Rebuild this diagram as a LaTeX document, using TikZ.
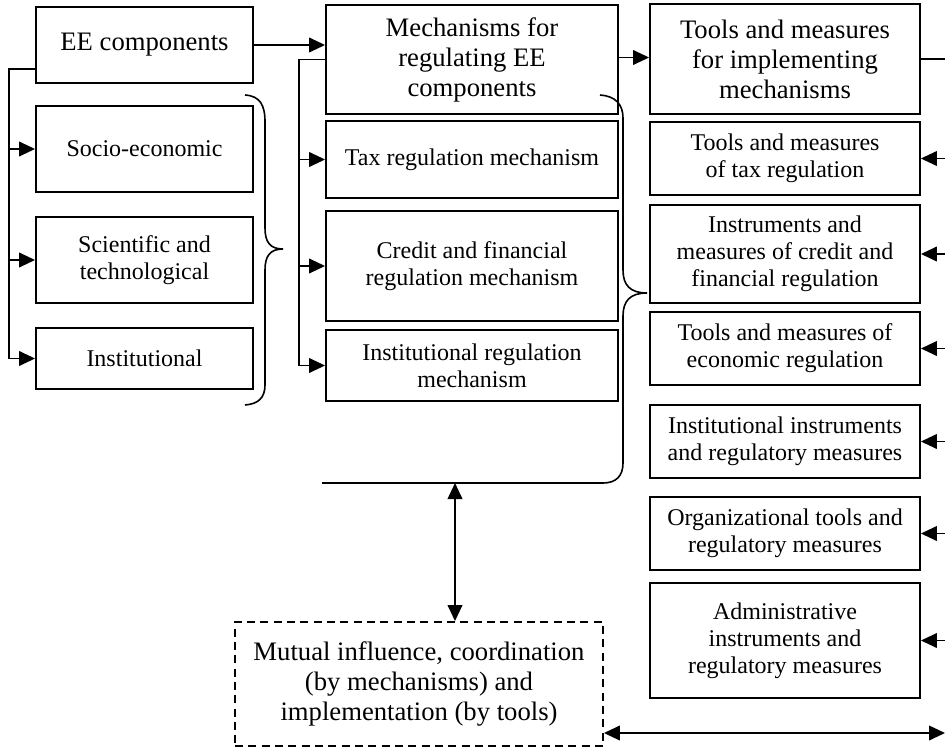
\documentclass[tikz,border=0pt]{standalone}
\usepackage{fontspec}
\setmainfont{Liberation Serif}
\usetikzlibrary{arrows.meta,calc}
\newcommand{\fbig}{\fontsize{20}{22.5}\selectfont}
\newcommand{\fsmall}{\fontsize{18}{20.3}\selectfont}
\tikzset{
  box/.style={draw, line width=1.4pt, align=center, inner sep=2pt, font=\fsmall},
  bigbox/.style={box, font=\fbig},
  dbox/.style={bigbox, dash pattern=on 6pt off 4pt},
  ln/.style={line width=1.3pt},
  arr/.style={ln, -{Triangle[length=12pt,width=11pt]}},
  darr/.style={ln, {Triangle[length=12pt,width=11pt]}-{Triangle[length=12pt,width=11pt]}},
  brace/.style={line width=1.2pt},
}
\begin{document}
\begin{tikzpicture}[x=0.75pt,y=-0.75pt]
\useasboundingbox (0,0) rectangle (945,749);
% left column
\node[bigbox, minimum width=162.75pt, minimum height=57pt] (ee) at (144.5,45) {EE components};
\node[box, minimum width=162.75pt, minimum height=64.5pt] (soc) at (144.5,149) {Socio-economic};
\node[box, minimum width=162.75pt, minimum height=64.5pt] (sci) at (144.5,260) {Scientific and\\technological};
\node[box, minimum width=162.75pt, minimum height=45.75pt] (inst) at (144.5,358.5) {Institutional};
% middle column
\node[bigbox, minimum width=219pt, minimum height=81.75pt] (mech) at (472,59.5) {Mechanisms for\\regulating EE\\components};
\node[box, minimum width=219pt, minimum height=57.75pt] (tax) at (472,159.5) {Tax regulation mechanism};
\node[box, minimum width=219pt, minimum height=82.5pt] (cred) at (472,266) {Credit and financial\\regulation mechanism};
\node[box, minimum width=219pt, minimum height=53.25pt] (ireg) at (472,365.5) {Institutional regulation\\mechanism};
% right column
\node[bigbox, minimum width=202.5pt, minimum height=82.5pt] (tools) at (785,59) {Tools and measures\\for implementing\\mechanisms};
\node[box, minimum width=202.5pt, minimum height=54.75pt] (ttax) at (785,158.5) {Tools and measures\\of tax regulation};
\node[box, minimum width=202.5pt, minimum height=73.5pt] (tcred) at (785,254) {Instruments and\\measures of credit and\\financial regulation};
\node[box, minimum width=202.5pt, minimum height=54.75pt] (tecon) at (785,348.5) {Tools and measures of\\economic regulation};
\node[box, minimum width=202.5pt, minimum height=54.75pt] (tinst) at (785,441.5) {Institutional instruments\\and regulatory measures};
\node[box, minimum width=202.5pt, minimum height=54.75pt] (torg) at (785,533.5) {Organizational tools and\\regulatory measures};
\node[box, minimum width=202.5pt, minimum height=86.25pt] (tadm) at (785,640.5) {Administrative\\instruments and\\regulatory measures};
% bottom dashed
\node[dbox, minimum width=276pt, minimum height=93pt] (mut) at (419,684) {Mutual influence, coordination\\(by mechanisms) and\\implementation (by tools)};
% coordinates
\coordinate (L) at (9,0);
\coordinate (M) at (299,0);
\coordinate (R) at (945,0);
\coordinate (bl) at (455,483);
\coordinate (bot) at (945,733);
\coordinate (eo) at ($(ee.west)+(0,24)$);
\coordinate (me) at ($(mech.east)+(0,-2)$);
% left bus
\draw[ln] (eo) -- (L |- eo) -- (L |- inst.west);
\draw[arr] (L |- soc.west) -- (soc.west);
\draw[arr] (L |- sci.west) -- (sci.west);
\draw[arr] (L |- inst.west) -- (inst.west);
% ee -> mech
\draw[arr] (ee.east) -- (ee.east -| mech.west);
% middle bus
\draw[ln] (mech.west) -- (M |- mech.west) -- (M |- ireg.west);
\draw[arr] (M |- tax.west) -- (tax.west);
\draw[arr] (M |- cred.west) -- (cred.west);
\draw[arr] (M |- ireg.west) -- (ireg.west);
% mech -> tools
\draw[arr] (me) -- (me -| tools.west);
% tools -> right edge
\draw[ln] (tools.east) -- (tools.east -| R);
\foreach \n in {ttax,tcred,tecon,tinst,torg,tadm}
  \draw[arr] (R |- \n.east) -- (\n.east);
% left brace
\draw[brace] (245,95) .. controls (260,96) and (265,105) .. (265,122)
  -- (265,228) .. controls (265,242) and (270,249) .. (283,249)
  .. controls (270,249) and (265,256) .. (265,270)
  -- (265,385) .. controls (265,398) and (258,404) .. (245,405);
% middle brace with bottom line
\draw[brace] (600,95) .. controls (615,96) and (623,104) .. (623,118)
  -- (623,270) .. controls (623,285) and (630,293) .. (647,293)
  .. controls (630,293) and (623,301) .. (623,316)
  -- (623,463) .. controls (623,476) and (616,483) .. (603,483)
  -- (322,483);
% vertical double arrow
\draw[darr] (bl) -- (bl |- mut.north);
% bottom double arrow
\draw[darr] (mut.east |- bot) -- (bot);
\end{tikzpicture}
\end{document}
